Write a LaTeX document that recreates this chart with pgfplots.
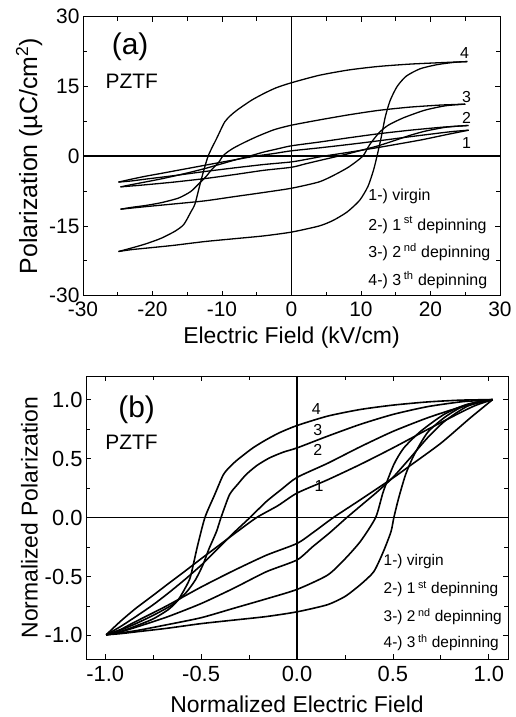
\documentclass[border=0pt]{standalone}
\usepackage{fontspec}
\setmainfont{Liberation Sans}
\usepackage{pgfplots}
\pgfplotsset{compat=1.18}
\pgfplotsset{
  myax/.style={
    scale only axis,
    axis line style={line width=0.9bp},
    every tick/.style={line width=0.8bp, black},
    major tick length=5bp, minor tick length=4bp,
    tick align=inside,
    /pgf/number format/assume math mode=true,
    tick label style={font=\fontsize{21}{24}\selectfont},
    label style={font=\fontsize{23}{27}\selectfont},
    minor x tick num=1, minor y tick num=1,
  },
}
\tikzset{
  lbl/.style={font=\fontsize{16}{18}\selectfont, anchor=west, inner sep=0pt},
  numl/.style={font=\fontsize{16}{18}\selectfont, inner sep=0pt},
}
\begin{document}
\begin{tikzpicture}
\useasboundingbox (0bp,0bp) rectangle (516bp,717bp);
% ---------------- panel (a)
\begin{axis}[myax,
  at={(83bp,421.3bp)}, anchor=south west,
  width=417bp, height=279bp,
  xmin=-30, xmax=30, ymin=-30, ymax=30,
  xtick={-30,-20,...,30}, ytick={-30,-15,0,15,30},
  xticklabel style={yshift=-3bp},
  xlabel={Electric Field (kV/cm)},
  xlabel style={yshift=-3bp},
  ylabel={Polarization (µC/cm\textsuperscript{2})},
  ylabel style={font=\fontsize{25}{28}\selectfont},
]
\addplot[black, line width=1.5bp] coordinates {(-30,0) (30,0)};
\addplot[black, line width=1bp] coordinates {(0,-30) (0,30)};
% loop 1
\addplot[black, line width=1.3bp, smooth, tension=0.4] coordinates {
(25.5,5.60) (23.25,5.32) (21.25,4.97) (17.0,4.18) (12.5,3.30) (8.25,2.52) (4.0,1.79) (0,1.16) (-2.5,0.58) (-5.25,0) (-8.0,-0.73) (-10.25,-1.34) (-12.5,-1.96) (-14.5,-2.52) (-16.75,-3.14) (-18.75,-3.70) (-21.0,-4.31) (-23.0,-4.93) (-24.9,-5.57)};
\addplot[black, line width=1.3bp, smooth, tension=0.4] coordinates {
(-24.9,-5.57) (-23.0,-5.32) (-21.25,-4.98) (-17.0,-4.20) (-12.5,-3.30) (-8.25,-2.52) (-4.0,-1.79) (0,-1.23) (2.25,-0.65) (4.6,0) (8.25,0.84) (12.5,1.88) (14.75,2.46) (18.75,3.53) (22.5,4.70) (25.5,5.60)};
% loop 2
\addplot[black, line width=1.3bp, smooth, tension=0.4] coordinates {
(25.5,6.60) (23.25,6.40) (21.25,6.18) (17.0,5.58) (12.5,4.82) (8.25,3.96) (4.0,3.04) (0,2.24) (-2.0,1.58) (-4.0,0.89) (-6.1,0) (-8.25,-0.86) (-10.25,-1.72) (-12.25,-2.57) (-14.5,-3.43) (-16.75,-4.22) (-18.75,-4.88) (-21.0,-5.54) (-23.0,-6.11) (-24.6,-6.6)};
\addplot[black, line width=1.3bp, smooth, tension=0.4] coordinates {
(-24.6,-6.6) (-23.0,-6.40) (-21.25,-6.18) (-17.0,-5.58) (-12.5,-4.82) (-8.25,-3.96) (-4.0,-3.04) (0,-2.38) (2.0,-1.65) (4.25,-0.85) (6.7,0) (8.5,0.66) (10.5,1.45) (12.5,2.24) (14.75,3.33) (17.0,4.46) (19.25,5.39) (22.25,6.24) (25.3,6.60)};
% loop 3
\addplot[black, line width=1.3bp, smooth, tension=0.4] coordinates {
(25.0,11.20) (23.25,11.1) (21.25,10.98) (17.0,10.55) (12.5,9.85) (8.25,8.9) (4.0,7.8) (0,6.67) (-2.5,5.7) (-5.0,4.2) (-7.0,2.8) (-8.4,1.7) (-9.3,0.8) (-9.9,0) (-10.5,-1.36) (-11.5,-2.9) (-12.25,-4.3) (-13.25,-5.8) (-14.5,-7.6) (-16.25,-9.0) (-18.75,-10.0) (-21.0,-10.6) (-23.0,-11.0) (-24.6,-11.4)};
\addplot[black, line width=1.3bp, smooth, tension=0.4] coordinates {
(-24.6,-11.4) (-21.0,-10.85) (-17.0,-10.28) (-12.5,-9.61) (-8.25,-8.70) (-4.0,-7.80) (0,-6.89) (3.95,-5.54) (6.125,-4.07) (8.25,-2.31) (10.25,0) (11.25,2.49) (12.625,5.09) (13.925,6.67) (16.1,8.25) (19.15,9.88) (22.175,10.85) (25.0,11.20)};
% loop 4
\addplot[black, line width=1.3bp, smooth, tension=0.4] coordinates {
(25.3,20.35) (21.25,20.1) (17.0,19.8) (12.5,19.3) (8.25,18.55) (4.0,17.4) (0,15.8) (-2.25,14.69) (-4.0,13.46) (-5.75,12.04) (-7.75,10.00) (-8.75,8.77) (-9.625,7.34) (-10.75,3.88) (-12.0,0) (-13.0,-5.10) (-13.875,-10.20) (-14.5,-12.04) (-15.5,-14.69) (-16.75,-16.12) (-18.75,-17.65) (-21.0,-18.87) (-23.125,-19.79) (-24.9,-20.5)};
\addplot[black, line width=1.3bp, smooth, tension=0.4] coordinates {
(-24.9,-20.5) (-23.0,-20.09) (-21.0,-19.79) (-17.0,-19.18) (-12.5,-18.36) (-8.25,-17.75) (-4.0,-17.14) (0,-16.32) (4.0,-15.0) (6.0,-13.8) (8.0,-12.0) (9.8,-9.5) (11.0,-6.5) (11.8,-3.0) (12.3,0) (12.9,4.0) (13.5,8.5) (14.2,12.0) (15.2,15.0) (16.5,17.2) (18.5,18.8) (21.0,19.7) (23.5,20.2) (25.3,20.35)};
\node[font=\fontsize{30}{34}\selectfont] at (rel axis cs:0.113,0.892) {(a)};
\node[font=\fontsize{21}{24}\selectfont] at (rel axis cs:0.117,0.767) {PZTF};
\node[numl] at (axis cs:24.9,22.2) {4};
\node[numl] at (axis cs:25.2,12.8) {3};
\node[numl] at (axis cs:25.2,8.2) {2};
\node[numl] at (axis cs:25.2,2.8) {1};
\node[lbl] at (rel axis cs:0.684,0.357) {1-) virgin};
\node[lbl] at (rel axis cs:0.684,0.253) {2-) 1\,\textsuperscript{st} depinning};
\node[lbl] at (rel axis cs:0.684,0.156) {3-) 2\,\textsuperscript{nd} depinning};
\node[lbl] at (rel axis cs:0.684,0.056) {4-) 3\,\textsuperscript{th} depinning};
\end{axis}
% ---------------- panel (b)
\begin{axis}[myax,
  at={(86bp,58bp)}, anchor=south west,
  width=422bp, height=283bp,
  xmin=-1.1, xmax=1.1, ymin=-1.2, ymax=1.2,
  xtick={-1,-0.5,0,0.5,1}, ytick={-1,-0.5,0,0.5,1},
  tick label style={font=\fontsize{22}{25}\selectfont},
  xticklabel style={yshift=-4bp, /pgf/number format/.cd, fixed, fixed zerofill, precision=1},
  yticklabel style={/pgf/number format/.cd, fixed, fixed zerofill, precision=1},
  xlabel={Normalized Electric Field},
  xlabel style={yshift=-7bp},
  ylabel={Normalized Polarization},
]
\addplot[black, line width=1bp] coordinates {(-1.1,0) (1.1,0)};
\addplot[black, line width=1.4bp] coordinates {(0,-1.2) (0,1.2)};
% loop 1
\addplot[black, line width=1.6bp, smooth, tension=0.4] coordinates {
(1.02,1.00) (0.93,0.95) (0.85,0.888) (0.68,0.746) (0.50,0.59) (0.33,0.45) (0.16,0.32) (0,0.207) (-0.10,0.10) (-0.21,0) (-0.32,-0.13) (-0.41,-0.24) (-0.50,-0.35) (-0.58,-0.45) (-0.67,-0.56) (-0.75,-0.66) (-0.84,-0.77) (-0.92,-0.88) (-0.995,-0.995)};
\addplot[black, line width=1.6bp, smooth, tension=0.4] coordinates {
(-0.995,-0.995) (-0.92,-0.95) (-0.85,-0.89) (-0.68,-0.75) (-0.50,-0.59) (-0.33,-0.45) (-0.16,-0.32) (0,-0.22) (0.09,-0.12) (0.19,0) (0.33,0.15) (0.50,0.335) (0.59,0.44) (0.75,0.63) (0.90,0.84) (1.02,1.00)};
% loop 2
\addplot[black, line width=1.6bp, smooth, tension=0.4] coordinates {
(1.02,1.00) (0.93,0.97) (0.85,0.936) (0.68,0.845) (0.50,0.73) (0.33,0.60) (0.16,0.46) (0,0.34) (-0.08,0.24) (-0.16,0.135) (-0.245,0) (-0.33,-0.13) (-0.41,-0.26) (-0.49,-0.39) (-0.58,-0.52) (-0.67,-0.64) (-0.75,-0.74) (-0.84,-0.84) (-0.92,-0.925) (-0.995,-0.995)};
\addplot[black, line width=1.6bp, smooth, tension=0.4] coordinates {
(-0.995,-0.995) (-0.92,-0.97) (-0.85,-0.936) (-0.68,-0.845) (-0.50,-0.73) (-0.33,-0.60) (-0.16,-0.46) (0,-0.36) (0.08,-0.25) (0.17,-0.13) (0.26,0) (0.34,0.11) (0.42,0.22) (0.50,0.34) (0.59,0.505) (0.68,0.675) (0.77,0.817) (0.89,0.945) (1.02,1.00)};
% loop 3
\addplot[black, line width=1.6bp, smooth, tension=0.4] coordinates {
(1.02,1.00) (0.93,0.99) (0.85,0.98) (0.68,0.94) (0.50,0.874) (0.33,0.79) (0.16,0.69) (0,0.59) (-0.07,0.555) (-0.144,0.505) (-0.21,0.44) (-0.266,0.363) (-0.31,0.28) (-0.352,0.193) (-0.396,0) (-0.42,-0.12) (-0.46,-0.27) (-0.49,-0.40) (-0.53,-0.53) (-0.58,-0.64) (-0.65,-0.74) (-0.75,-0.83) (-0.84,-0.90) (-0.92,-0.955) (-0.995,-0.995)};
\addplot[black, line width=1.6bp, smooth, tension=0.4] coordinates {
(-0.995,-0.995) (-0.84,-0.96) (-0.68,-0.91) (-0.50,-0.85) (-0.33,-0.77) (-0.16,-0.69) (0,-0.61) (0.158,-0.49) (0.245,-0.36) (0.33,-0.204) (0.41,0) (0.45,0.22) (0.505,0.45) (0.557,0.59) (0.644,0.73) (0.766,0.874) (0.887,0.96) (1.02,1.00)};
% loop 4
\addplot[black, line width=1.6bp, smooth, tension=0.4] coordinates {
(1.02,1.00) (0.85,0.995) (0.68,0.98) (0.50,0.953) (0.33,0.916) (0.16,0.86) (0,0.78) (-0.09,0.72) (-0.16,0.66) (-0.23,0.59) (-0.31,0.49) (-0.35,0.43) (-0.385,0.36) (-0.43,0.19) (-0.48,0) (-0.52,-0.25) (-0.555,-0.50) (-0.58,-0.59) (-0.62,-0.70) (-0.67,-0.78) (-0.75,-0.86) (-0.84,-0.92) (-0.925,-0.97) (-0.995,-0.995)};
\addplot[black, line width=1.6bp, smooth, tension=0.4] coordinates {
(-0.995,-0.995) (-0.92,-0.985) (-0.84,-0.97) (-0.68,-0.94) (-0.50,-0.90) (-0.33,-0.87) (-0.16,-0.84) (0,-0.80) (0.158,-0.74) (0.25,-0.67) (0.33,-0.57) (0.40,-0.46) (0.45,-0.29) (0.49,-0.12) (0.505,0) (0.53,0.165) (0.566,0.363) (0.61,0.53) (0.68,0.72) (0.766,0.845) (0.85,0.93) (0.94,0.98) (1.02,1.00)};
\node[font=\fontsize{30}{34}\selectfont] at (rel axis cs:0.12,0.879) {(b)};
\node[font=\fontsize{21}{24}\selectfont] at (rel axis cs:0.108,0.767) {PZTF};
\node[numl] at (axis cs:0.10,0.917) {4};
\node[numl] at (axis cs:0.108,0.746) {3};
\node[numl] at (axis cs:0.108,0.576) {2};
\node[numl] at (axis cs:0.115,0.264) {1};
\node[lbl, font=\fontsize{15.5}{18}\selectfont] at (rel axis cs:0.705,0.343) {1-) virgin};
\node[lbl, font=\fontsize{15.5}{18}\selectfont] at (rel axis cs:0.705,0.247) {2-) 1\,\textsuperscript{st} depinning};
\node[lbl, font=\fontsize{15.5}{18}\selectfont] at (rel axis cs:0.705,0.150) {3-) 2\,\textsuperscript{nd} depinning};
\node[lbl, font=\fontsize{15.5}{18}\selectfont] at (rel axis cs:0.705,0.058) {4-) 3\,\textsuperscript{th} depinning};
\end{axis}
\end{tikzpicture}
\end{document}
